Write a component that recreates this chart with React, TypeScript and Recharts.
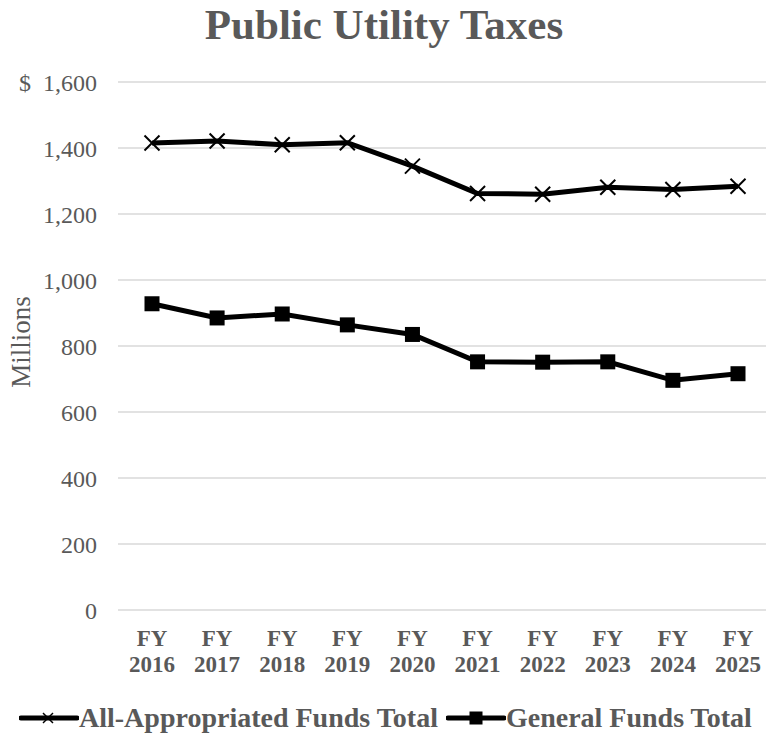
import React from "react";
import { LineChart, Line, XAxis, YAxis, CartesianGrid } from "recharts";

const years = ["2016", "2017", "2018", "2019", "2020", "2021", "2022", "2023", "2024", "2025"];
const allFunds = [1415, 1421, 1410, 1416, 1345, 1262, 1260, 1281, 1274, 1284];
const generalFunds = [928, 885, 897, 864, 835, 752, 751, 752, 696, 716];
const yTicks = [0, 200, 400, 600, 800, 1000, 1200, 1400, 1600];

const gray = "#595959";
const font = "'Liberation Serif', 'Times New Roman', serif";

const data = years.map((y, i) => ({
  name: y,
  all: allFunds[i],
  general: generalFunds[i],
}));

const XDot = (props: any) => {
  const { cx, cy } = props;
  if (cx == null || cy == null) return null;
  const s = 7.5;
  return (
    <g>
      <line x1={cx - s} y1={cy - s} x2={cx + s} y2={cy + s} stroke="#000" strokeWidth={2} />
      <line x1={cx - s} y1={cy + s} x2={cx + s} y2={cy - s} stroke="#000" strokeWidth={2} />
    </g>
  );
};

const SquareDot = (props: any) => {
  const { cx, cy } = props;
  if (cx == null || cy == null) return null;
  return <rect x={cx - 7.5} y={cy - 7.5} width={15} height={15} fill="#000" />;
};

const YearTick = (props: any) => {
  const { x, y, payload } = props;
  return (
    <g fontFamily={font} fontSize={23} fontWeight="bold" fill={gray}>
      <text x={x} y={y + 36} textAnchor="middle">FY</text>
      <text x={x} y={y + 62} textAnchor="middle">{payload.value}</text>
    </g>
  );
};

const formatY = (v: number) => {
  const s = v.toLocaleString("en-US");
  return v === 1600 ? "$\u00a0\u00a0" + s : s;
};

const LegendBox = () => (
  <div
    style={{
      position: "absolute",
      left: 0,
      top: 701,
      width: 766,
      display: "flex",
      alignItems: "center",
      fontFamily: font,
      fontSize: 28,
      lineHeight: "34px",
      fontWeight: "bold",
      color: gray,
      whiteSpace: "nowrap",
    }}
  >
    <svg width={60} height={20} style={{ marginLeft: 19 }}>
      <line x1={2} y1={10} x2={58} y2={10} stroke="#000" strokeWidth={5} strokeLinecap="round" />
      <line x1={24} y1={5} x2={34} y2={15} stroke="#000" strokeWidth={1.5} />
      <line x1={24} y1={15} x2={34} y2={5} stroke="#000" strokeWidth={1.5} />
    </svg>
    <span>All-Appropriated Funds Total</span>
    <svg width={60} height={20} style={{ marginLeft: 8 }}>
      <line x1={2} y1={10} x2={58} y2={10} stroke="#000" strokeWidth={5} strokeLinecap="round" />
      <rect x={23.5} y={3.5} width={13} height={13} fill="#000" />
    </svg>
    <span>General Funds Total</span>
  </div>
);

const App = () => {
  return (
    <div
      style={{
        position: "fixed",
        top: 0,
        left: 0,
        width: 766,
        height: 734,
        background: "#fff",
        overflow: "hidden",
      }}
    >
      <div
        style={{
          position: "absolute",
          top: 1,
          left: 0,
          width: 768,
          textAlign: "center",
          fontFamily: font,
          fontSize: 43,
          fontWeight: "bold",
          lineHeight: "48px",
          color: gray,
        }}
      >
        Public Utility Taxes
      </div>
      <LineChart
        width={766}
        height={734}
        data={data}
        margin={{ top: 82, right: 0, left: 0, bottom: 54 }}
      >
        <CartesianGrid vertical={false} stroke="#d9d9d9" strokeWidth={1.5} />
        <XAxis
          dataKey="name"
          axisLine={false}
          tickLine={false}
          tickSize={0}
          tickMargin={0}
          height={70}
          interval={0}
          padding={{ left: 34, right: 28 }}
          tick={<YearTick />}
        />
        <YAxis
          width={118}
          domain={[0, 1600]}
          ticks={yTicks}
          axisLine={false}
          tickLine={false}
          tickSize={0}
          tickMargin={21}
          tickFormatter={formatY}
          tick={{ fontFamily: font, fontSize: 24, fill: gray }}
          label={{
            content: () => (
              <text
                x={21}
                y={342}
                transform="rotate(-90 21 342)"
                textAnchor="middle"
                dominantBaseline="central"
                fontFamily={font}
                fontSize={27}
                fill={gray}
              >
                Millions
              </text>
            ),
          }}
        />
        <Line
          type="linear"
          dataKey="all"
          name="All-Appropriated Funds Total"
          stroke="#000"
          strokeWidth={5}
          dot={<XDot />}
          activeDot={false}
          isAnimationActive={false}
        />
        <Line
          type="linear"
          dataKey="general"
          name="General Funds Total"
          stroke="#000"
          strokeWidth={5}
          dot={<SquareDot />}
          activeDot={false}
          isAnimationActive={false}
        />
      </LineChart>
      <LegendBox />
    </div>
  );
};

export default App;
